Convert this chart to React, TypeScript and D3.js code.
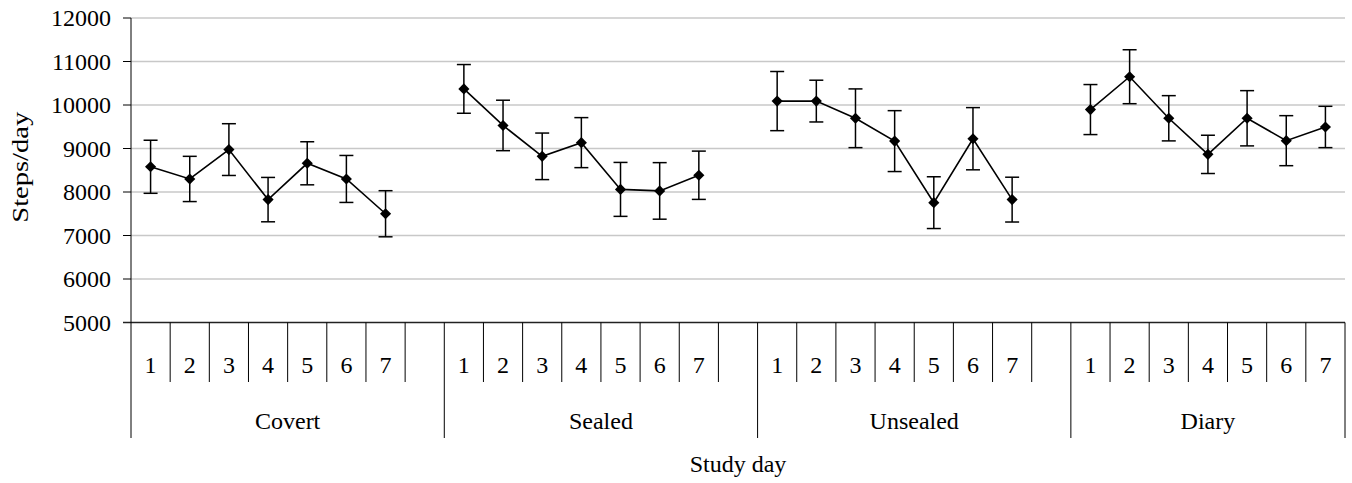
import React from 'react'
import * as d3 from 'd3'

const groups = ['Covert', 'Sealed', 'Unsealed', 'Diary']
const dayLabels = ['1', '2', '3', '4', '5', '6', '7']

const covertMean = [8580, 8300, 8975, 7825, 8660, 8300, 7500]
const covertErr = [610, 520, 595, 510, 495, 540, 530]
const sealedMean = [10370, 9530, 8820, 9135, 8060, 8025, 8385]
const sealedErr = [560, 580, 535, 575, 620, 650, 555]
const unsealedMean = [10090, 10090, 9695, 9170, 7755, 9225, 7825]
const unsealedErr = [680, 480, 675, 700, 595, 715, 515]
const diaryMean = [9895, 10650, 9695, 8865, 9695, 9180, 9495]
const diaryErr = [575, 620, 520, 440, 635, 575, 475]

const means = [covertMean, sealedMean, unsealedMean, diaryMean]
const errs = [covertErr, sealedErr, unsealedErr, diaryErr]
const yTicks = [5000, 6000, 7000, 8000, 9000, 10000, 11000, 12000]

const W = 1352
const H = 483
const left = 131
const right = 1345
const top = 18
const bottom = 322.5
const font = '"Liberation Serif", "Times New Roman", serif'

// each group takes 7 days plus one empty slot, except the last
const slotStart = groups.map((g, gi) => gi * (dayLabels.length + 1))
const nSlots = groups.length * (dayLabels.length + 1) - 1

const App = () => {
  const y = d3.scaleLinear().domain([5000, 12000]).range([bottom, top])
  const x = d3.scaleLinear().domain([0, nSlots]).range([left, right])
  const diamond = d3.symbol(d3.symbolSquare, 62)()
  const fs = 24

  return (
    <svg width={W} height={H} style={{ position: 'absolute', left: 0, top: 0 }} fontFamily={font}>
      {yTicks.map(t => (
        <g key={t}>
          {t > 5000 && <line x1={left} x2={right} y1={y(t)} y2={y(t)} stroke="#c8c8c8" strokeWidth={1.3} />}
          <line x1={left - 8} x2={left} y1={y(t)} y2={y(t)} stroke="#000" />
          <text x={111} y={y(t)} dy="0.34em" textAnchor="end" fontSize={fs}>{t}</text>
        </g>
      ))}
      <line x1={left - 8} x2={right} y1={bottom} y2={bottom} stroke="#222" strokeWidth={1.3} />
      <line x1={left} x2={left} y1={top} y2={438} stroke="#000" />

      {/* category axis */}
      {d3.range(1, nSlots + 1).map(i => {
        const isGroupEnd = i === nSlots || (i % (dayLabels.length + 1) === 0)
        return <line key={i} x1={x(i)} x2={x(i)} y1={bottom} y2={isGroupEnd ? 438 : 382} stroke="#000" />
      })}
      {groups.map((g, gi) => (
        <g key={g}>
          {dayLabels.map((dl, di) => (
            <text key={dl} x={x(slotStart[gi] + di + 0.5)} y={373} textAnchor="middle" fontSize={fs}>{dl}</text>
          ))}
          <text x={(x(slotStart[gi]) + x(Math.min(slotStart[gi] + dayLabels.length + 1, nSlots))) / 2} y={429} textAnchor="middle" fontSize={fs}>{g}</text>
        </g>
      ))}
      <text x={(left + right) / 2} y={472} textAnchor="middle" fontSize={fs}>Study day</text>
      <text transform={`translate(28, ${(top + bottom) / 2 - 3}) rotate(-90)`} textAnchor="middle" fontSize={fs}
        textLength={111} lengthAdjust="spacingAndGlyphs">Steps/day</text>

      {/* series */}
      {groups.map((g, gi) => {
        const pts = means[gi].map((m, di) => [x(slotStart[gi] + di + 0.5), y(m)] as [number, number])
        return (
          <g key={g}>
            <path d={d3.line()(pts) || ''} fill="none" stroke="#000" strokeWidth={1.6} />
            {means[gi].map((m, di) => {
              const cx = x(slotStart[gi] + di + 0.5)
              const hi = y(m + errs[gi][di])
              const lo = y(m - errs[gi][di])
              return (
                <g key={di} stroke="#000" strokeWidth={1.5}>
                  <line x1={cx} x2={cx} y1={hi} y2={lo} />
                  <line x1={cx - 7} x2={cx + 7} y1={hi} y2={hi} />
                  <line x1={cx - 7} x2={cx + 7} y1={lo} y2={lo} />
                  <path d={diamond || ''} transform={`translate(${cx},${y(m)}) rotate(45)`} fill="#000" stroke="none" />
                </g>
              )
            })}
          </g>
        )
      })}
    </svg>
  )
}

export default App
